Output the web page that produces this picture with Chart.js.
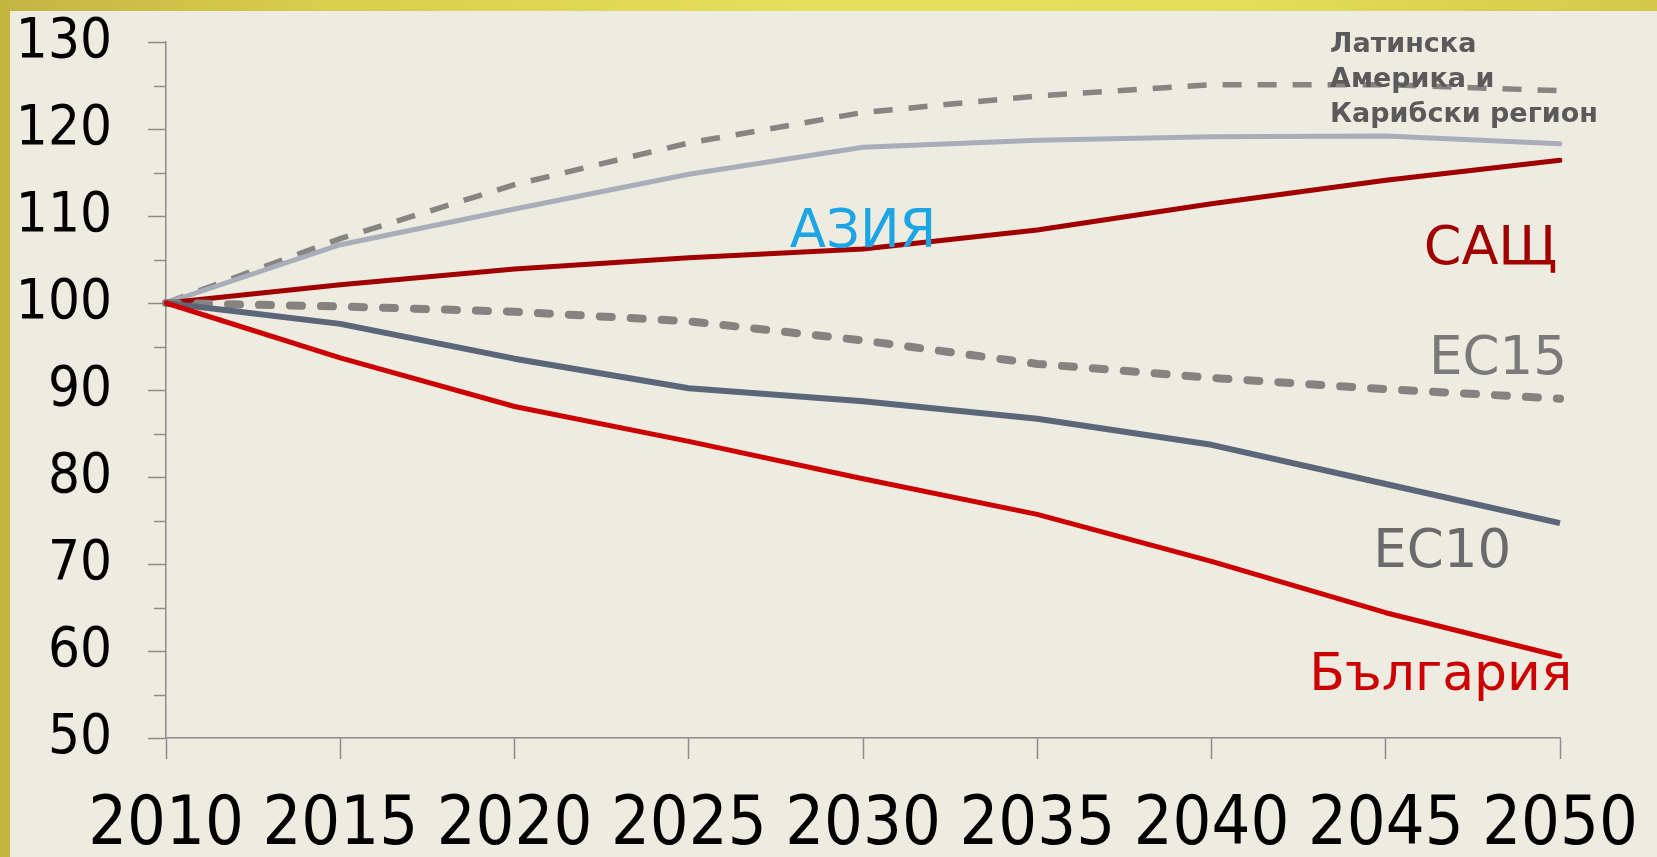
<!DOCTYPE html>
<html>
<head>
<meta charset="utf-8">
<script src="https://cdn.jsdelivr.net/npm/chart.js@4.4.1/dist/chart.umd.min.js"></script>
<style>
  html, body { margin: 0; padding: 0; width: 1657px; height: 857px; overflow: hidden; background: #EEEBE1; }
  #frame { position: absolute; left: 0; top: 0; width: 1657px; height: 857px; background: #EEEBE1; }
  #topband { position: absolute; left: 0; top: 0; width: 1657px; height: 11px;
    background: linear-gradient(to right, #C4B542 0%, #D8CE50 20%, #E6E05C 50%, #E4DD5B 75%, #D3C84C 100%); }
  #leftband { position: absolute; left: 0; top: 0; width: 10px; height: 857px; background: #C4B541; }
  #c { position: absolute; left: 0; top: 0; }
</style>
</head>
<body>
<div id="frame"></div>
<div id="topband"></div>
<div id="leftband"></div>
<canvas id="c" width="1657" height="857"></canvas>
<script>
// ---- data ----
const years = ['2010','2015','2020','2025','2030','2035','2040','2045','2050'];
const latAm    = [100, 107.4, 113.6, 118.4, 121.9, 123.8, 125.1, 125.1, 124.4];
const asia     = [100, 106.7, 110.8, 114.8, 117.9, 118.7, 119.1, 119.2, 118.3];
const usa      = [100, 102.1, 103.9, 105.2, 106.2, 108.4, 111.4, 114.1, 116.4];
const eu15     = [100,  99.6,  99.0,  97.9,  95.7,  93.0,  91.4,  90.1,  89.0];
const eu10     = [100,  97.6,  93.6,  90.2,  88.7,  86.7,  83.7,  79.2,  74.7];
const bulgaria = [100,  93.7,  88.1,  84.1,  79.8,  75.7,  70.3,  64.4,  59.4];
const yMin = 50, yMax = 130, yMajorStep = 10, yMinorStep = 5;
const seriesNames = ['Латинска Америка и Карибски регион', 'АЗИЯ', 'САЩ', 'ЕС15', 'ЕС10', 'България'];

const BG = '#EEEBE1';
const AXIS = '#8C8C8C';
const tickFont = "'DejaVu Sans Condensed', 'DejaVu Sans', sans-serif";
const labelFont = "'DejaVu Sans', Verdana, sans-serif";

// text annotations: [text, x-index, y-value, align, color, font]
const annotations = [
  ['АЗИЯ', 4.0, 106.4, 'center', '#1DA5E3', '53px ' + labelFont],
  ['САЩ', 7.985, 104.5, 'right', '#A00000', '54px ' + labelFont],
  ['ЕС15', 8.04, 91.8, 'right', '#7A7A7A', '53px ' + labelFont],
  ['ЕС10', 7.72, 69.7, 'right', '#6A6A6A', '53px ' + labelFont],
  ['България', 8.07, 55.5, 'right', '#CC0000', '52px ' + labelFont],
  ['Латинска', 6.68, 128.85, 'left', '#5A5A5A', 'bold 27px ' + labelFont],
  ['Америка и', 6.68, 124.85, 'left', '#5A5A5A', 'bold 27px ' + labelFont],
  ['Карибски регион', 6.68, 120.8, 'left', '#5A5A5A', 'bold 27px ' + labelFont]
];

const annotationPlugin = {
  id: 'annots',
  afterDatasetsDraw(chart) {
    const ctx = chart.ctx, xs = chart.scales.x, ys = chart.scales.y;
    ctx.save();
    ctx.textBaseline = 'alphabetic';
    annotations.forEach(a => {
      ctx.font = a[5];
      ctx.fillStyle = a[4];
      ctx.textAlign = a[3];
      ctx.fillText(a[0], xs.getPixelForValue(a[1]), ys.getPixelForValue(a[2]));
    });
    ctx.restore();
  }
};

const minorTickPlugin = {
  id: 'minorTicks',
  afterDraw(chart) {
    const ctx = chart.ctx, ys = chart.scales.y;
    const x0 = chart.chartArea.left;
    ctx.save();
    ctx.strokeStyle = AXIS;
    ctx.lineWidth = 1.5;
    for (let v = yMin + yMinorStep; v < yMax; v += yMajorStep) {
      const y = Math.round(ys.getPixelForValue(v)) + 0.5;
      ctx.beginPath();
      ctx.moveTo(x0 - 12, y);
      ctx.lineTo(x0, y);
      ctx.stroke();
    }
    ctx.restore();
  }
};

const base = { pointRadius: 0, pointHoverRadius: 0, tension: 0, fill: false };

new Chart(document.getElementById('c'), {
  type: 'line',
  data: {
    labels: years,
    datasets: [
      Object.assign({}, base, { label: seriesNames[5], data: bulgaria, borderColor: '#CC0000', borderWidth: 5, borderCapStyle: 'round', borderJoinStyle: 'round' }),
      Object.assign({}, base, { label: seriesNames[4], data: eu10, borderColor: '#5B6779', borderWidth: 6, borderJoinStyle: 'round' }),
      Object.assign({}, base, { label: seriesNames[4] + ' inner', data: eu10, borderColor: '#DFE5EF', borderWidth: 2.2, borderJoinStyle: 'round' }),
      Object.assign({}, base, { label: seriesNames[3], data: eu15, borderColor: '#858280', borderWidth: 8, borderDash: [12, 19], borderCapStyle: 'round' }),
      Object.assign({}, base, { label: seriesNames[3] + ' inner', data: eu15, borderColor: '#F0EEE6', borderWidth: 3.6, borderDash: [12, 19], borderCapStyle: 'round' }),
      Object.assign({}, base, { label: seriesNames[2], data: usa, borderColor: '#A00000', borderWidth: 5, borderCapStyle: 'round', borderJoinStyle: 'round' }),
      Object.assign({}, base, { label: seriesNames[1], data: asia, borderColor: '#A7AEB9', borderWidth: 5, borderCapStyle: 'round', borderJoinStyle: 'round' }),
      Object.assign({}, base, { label: seriesNames[0], data: latAm, borderColor: '#878481', borderWidth: 5.5, borderDash: [19, 16] })
    ]
  },
  options: {
    responsive: false,
    animation: false,
    devicePixelRatio: 1,
    events: [],
    layout: { padding: { top: 42, right: 97, bottom: 0, left: 0 } },
    plugins: { legend: { display: false }, tooltip: { enabled: false }, title: { display: false } },
    scales: {
      x: {
        grid: { drawOnChartArea: false, drawTicks: true, tickLength: 21, tickColor: AXIS, tickWidth: 1.5 },
        border: { display: true, color: AXIS, width: 1.5 },
        ticks: { color: '#000000', font: { family: tickFont, size: 68 }, padding: 27, maxRotation: 0, autoSkip: false },
        afterFit(scale) { scale.height = 119; scale.paddingLeft = 0; scale.paddingRight = 0; }
      },
      y: {
        min: yMin, max: yMax,
        grid: { drawOnChartArea: false, drawTicks: true, tickLength: 18, tickWidth: 1.5, tickColor: AXIS },
        border: { display: true, color: AXIS, width: 1.5 },
        ticks: { stepSize: yMajorStep, color: '#000000', font: { family: tickFont, size: 56 }, padding: 36 },
        afterFit(scale) { scale.width = 166; scale.paddingTop = 0; scale.paddingBottom = 0; }
      }
    }
  },
  plugins: [annotationPlugin, minorTickPlugin]
});
</script>
</body>
</html>
